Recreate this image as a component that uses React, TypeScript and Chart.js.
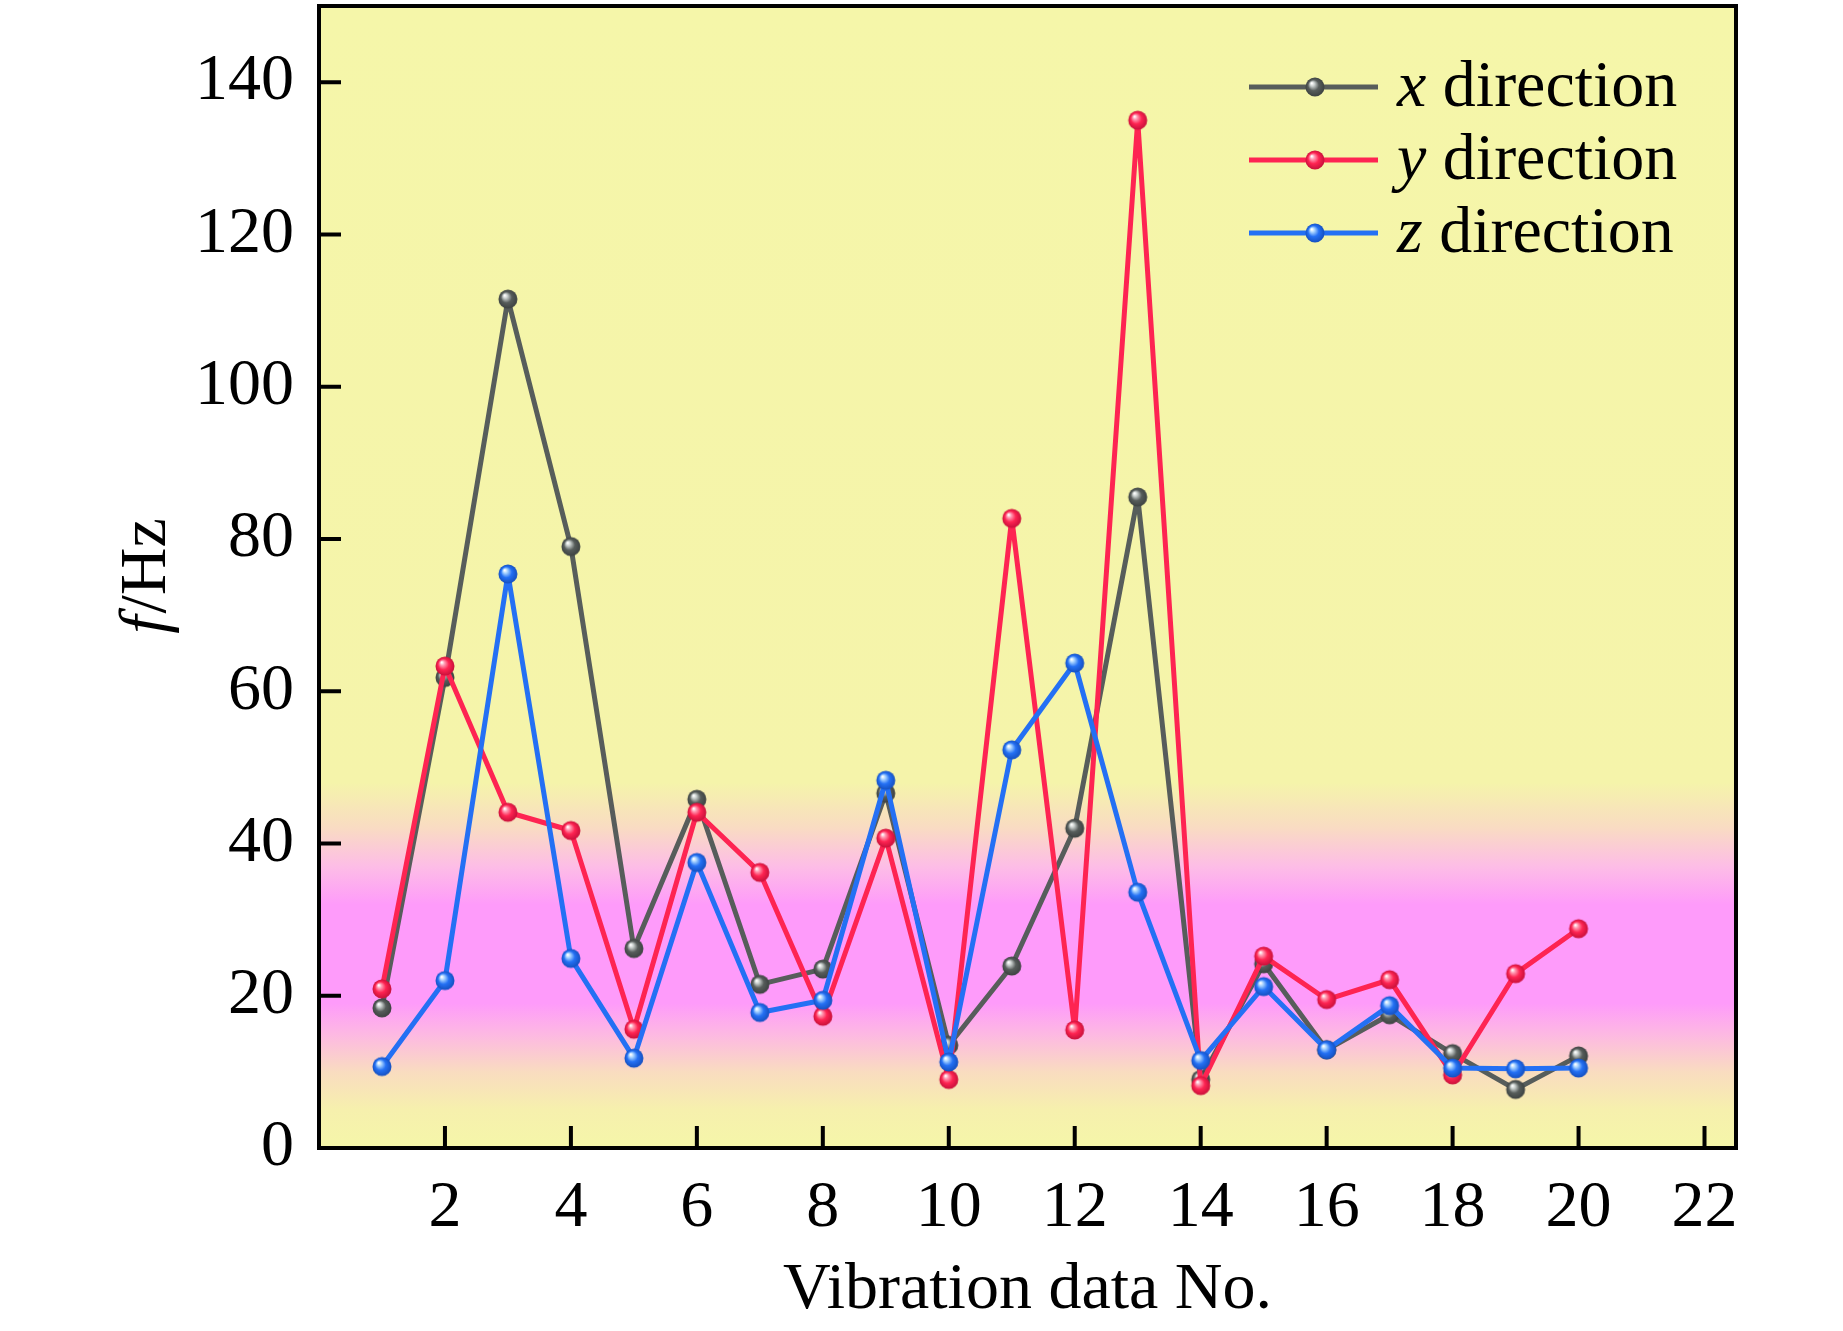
import React, { useEffect, useRef } from 'react';
import { Chart, registerables } from 'chart.js';

Chart.register(...registerables);

// Vibration data numbers and measured frequencies (Hz)
const dataNo = [1, 2, 3, 4, 5, 6, 7, 8, 9, 10, 11, 12, 13, 14, 15, 16, 17, 18, 19, 20];
const xDirection = [18.4, 61.8, 111.5, 79.0, 26.2, 45.8, 21.5, 23.5, 46.6, 13.5, 23.9, 42.0, 85.5, 9.0, 24.2, 12.9, 17.5, 12.4, 7.7, 12.1];
const yDirection = [20.9, 63.3, 44.1, 41.7, 15.6, 44.1, 36.2, 17.3, 40.7, 9.0, 82.7, 15.5, 135.0, 8.2, 25.2, 19.5, 22.1, 9.6, 22.9, 28.8];
const zDirection = [10.7, 22.0, 75.4, 24.9, 11.8, 37.5, 17.8, 19.4, 48.3, 11.3, 52.3, 63.7, 33.6, 11.5, 21.2, 12.9, 18.7, 10.5, 10.4, 10.5];

const xTicks = [2, 4, 6, 8, 10, 12, 14, 16, 18, 20, 22];
const yTicks = [0, 20, 40, 60, 80, 100, 120, 140];

const FONT = "'Liberation Serif', 'Times New Roman', serif";
const GRAY = '#575d5b';
const RED = '#fe2452';
const BLUE = '#2470f4';

// background band (value on y axis -> colour)
const bgStops: [number, string][] = [
  [0, '#f5f6a9'],
  [5, '#f6f0ad'],
  [10, '#f9dcc0'],
  [15, '#fdb8e3'],
  [19, '#fe9bfa'],
  [32, '#fe9bfa'],
  [37, '#fdbde6'],
  [42, '#f9dbc3'],
  [48, '#f5f4aa'],
  [150, '#f5f6a9'],
];

function makeBall(base: string, light: string, dark: string, r = 9.5) {
  const c = document.createElement('canvas');
  const s = 22;
  c.width = s;
  c.height = s;
  const g = c.getContext('2d')!;
  const cx = s / 2;
  const cy = s / 2;
  const grad = g.createRadialGradient(cx - r * 0.35, cy - r * 0.4, r * 0.05, cx, cy, r);
  grad.addColorStop(0, '#ffffff');
  grad.addColorStop(0.2, light);
  grad.addColorStop(0.55, base);
  grad.addColorStop(1, dark);
  g.fillStyle = grad;
  g.beginPath();
  g.arc(cx, cy, r, 0, Math.PI * 2);
  g.fill();
  return c;
}

const App: React.FC = () => {
  const canvasRef = useRef<HTMLCanvasElement | null>(null);

  useEffect(() => {
    document.body.style.margin = '0';
    if (!canvasRef.current) return;

    const balls = [
      makeBall(GRAY, '#c9cfcd', '#3d4241'),
      makeBall(RED, '#ff9cb4', '#c8103a'),
      makeBall(BLUE, '#a9d4ff', '#1550c0'),
    ];
    const labels = ['x', 'y', 'z'];
    const colors = [GRAY, RED, BLUE];

    const decor = {
      id: 'decor',
      beforeDraw(chart: any) {
        const { ctx, chartArea: a, scales } = chart;
        const y = scales.y;
        const y0 = y.getPixelForValue(0);
        const y1 = y.getPixelForValue(150);
        const grad = ctx.createLinearGradient(0, y0, 0, y1);
        bgStops.forEach(([v, col]) => grad.addColorStop(v / 150, col));
        ctx.save();
        ctx.fillStyle = grad;
        ctx.fillRect(a.left, a.top, a.right - a.left, a.bottom - a.top);
        ctx.restore();
      },
      afterDraw(chart: any) {
        const { ctx, chartArea: a, scales } = chart;
        ctx.save();
        ctx.strokeStyle = '#000';
        ctx.lineWidth = 4;
        ctx.strokeRect(a.left, a.top, a.right - a.left, a.bottom - a.top);
        // inward tick marks
        ctx.beginPath();
        yTicks.forEach((v) => {
          const p = scales.y.getPixelForValue(v);
          ctx.moveTo(a.left, p);
          ctx.lineTo(a.left + 22, p);
        });
        xTicks.forEach((v) => {
          const p = scales.x.getPixelForValue(v);
          ctx.moveTo(p, a.bottom);
          ctx.lineTo(p, a.bottom - 22);
        });
        ctx.stroke();

        // y axis title: f/Hz
        ctx.fillStyle = '#000';
        ctx.textBaseline = 'middle';
        ctx.textAlign = 'left';
        ctx.translate(148, (a.top + a.bottom) / 2);
        ctx.rotate(-Math.PI / 2);
        ctx.font = `italic 66px ${FONT}`;
        const w1 = ctx.measureText('f').width;
        ctx.font = `66px ${FONT}`;
        const w2 = ctx.measureText('/Hz').width;
        const sx = -(w1 + w2) / 2;
        ctx.font = `italic 66px ${FONT}`;
        ctx.fillText('f', sx, 0);
        ctx.font = `66px ${FONT}`;
        ctx.fillText('/Hz', sx + w1 + 2, 0);
        ctx.restore();

        // legend
        ctx.save();
        const rows = [87, 160, 233];
        rows.forEach((ry, i) => {
          ctx.strokeStyle = colors[i];
          ctx.lineWidth = 5;
          ctx.beginPath();
          ctx.moveTo(1249, ry);
          ctx.lineTo(1378, ry);
          ctx.stroke();
          const b = balls[i];
          ctx.drawImage(b, 1315 - b.width / 2, ry - b.height / 2);
          ctx.fillStyle = '#000';
          ctx.textBaseline = 'alphabetic';
          ctx.textAlign = 'left';
          ctx.font = `italic 66px ${FONT}`;
          ctx.fillText(labels[i], 1397, ry + 19);
          const lw = ctx.measureText(labels[i]).width;
          ctx.font = `66px ${FONT}`;
          ctx.fillText(' direction', 1397 + lw, ry + 19);
        });
        ctx.restore();
      },
    };

    const series = [xDirection, yDirection, zDirection];

    const chart = new Chart(canvasRef.current, {
      type: 'line',
      data: {
        datasets: series.map((vals, i) => ({
          label: `${labels[i]} direction`,
          data: dataNo.map((n, k) => ({ x: n, y: vals[k] })),
          borderColor: colors[i],
          backgroundColor: colors[i],
          borderWidth: 5,
          borderJoinStyle: 'round' as const,
          borderCapStyle: 'round' as const,
          pointStyle: balls[i] as any,
          pointRadius: 9.5,
          tension: 0,
          order: 3 - i,
        })),
      },
      options: {
        responsive: false,
        animation: false,
        events: [],
        layout: { autoPadding: false, padding: { left: 0, top: 6, right: 107, bottom: 0 } },
        plugins: {
          legend: { display: false },
          tooltip: { enabled: false },
        },
        scales: {
          x: {
            type: 'linear',
            min: 0,
            max: 22.5,
            grid: { display: false, drawTicks: false },
            border: { display: false },
            afterBuildTicks: (s: any) => {
              s.ticks = xTicks.map((v) => ({ value: v }));
            },
            afterFit: (s: any) => {
              s.height = 183;
              s.paddingLeft = 0;
              s.paddingRight = 0;
            },
            ticks: {
              color: '#000',
              padding: 21,
              maxRotation: 0,
              autoSkip: false,
              font: { family: FONT, size: 66 },
            },
            title: {
              display: true,
              text: 'Vibration data No.',
              color: '#000',
              padding: { top: 0, bottom: 1 },
              font: { family: FONT, size: 66 },
            },
          },
          y: {
            min: 0,
            max: 150,
            grid: { display: false, drawTicks: false },
            border: { display: false },
            afterBuildTicks: (s: any) => {
              s.ticks = yTicks.map((v) => ({ value: v }));
            },
            afterFit: (s: any) => {
              s.width = 319;
              s.paddingTop = 0;
              s.paddingBottom = 0;
            },
            ticks: {
              color: '#000',
              padding: 25,
              autoSkip: false,
              font: { family: FONT, size: 66 },
            },
          },
        },
      },
      plugins: [decor],
    });

    return () => {
      chart.destroy();
    };
  }, []);

  return (
    <div style={{ width: 1843, height: 1331, background: '#fff' }}>
      <canvas ref={canvasRef} width={1843} height={1331}></canvas>
    </div>
  );
};

export default App;
